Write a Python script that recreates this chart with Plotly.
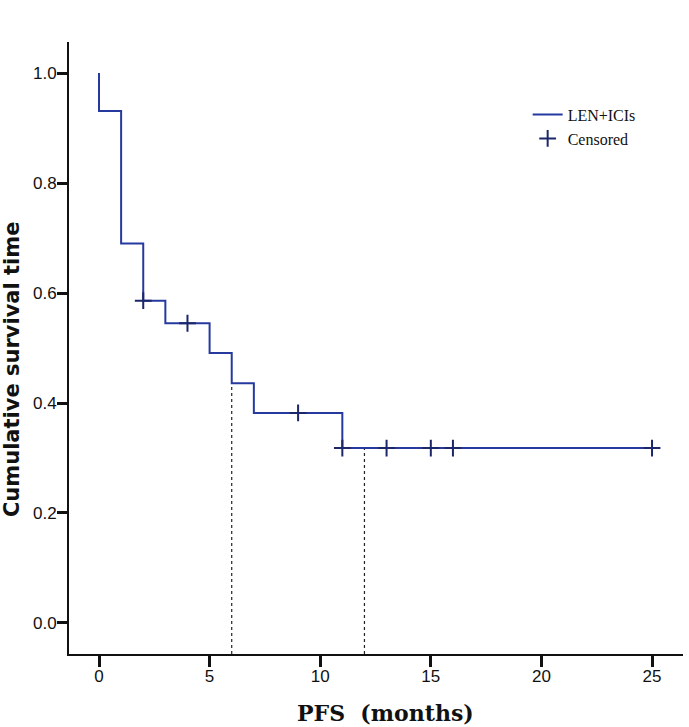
import plotly.graph_objects as go

# Kaplan-Meier step data
step_times = [0, 0, 1, 2, 3, 5, 6, 7, 11, 25]
step_surv = [1.0, 0.931, 0.690, 0.586, 0.545, 0.491, 0.436, 0.382, 0.318, 0.318]

censor_times = [2, 4, 9, 11, 13, 15, 16, 25]
censor_surv = [0.586, 0.545, 0.382, 0.318, 0.318, 0.318, 0.318, 0.318]

ref_times = [6, 12]
ref_surv = [0.436, 0.318]

x_ticks = [0, 5, 10, 15, 20, 25]
y_ticks = [0.0, 0.2, 0.4, 0.6, 0.8, 1.0]

X_RANGE = [-1.356, 26.40]
Y_RANGE = [-0.0564, 1.0564]

LINE_COLOR = "#26399f"
MARK_COLOR = "#1b2768"
AXIS_COLOR = "#111111"

fig = go.Figure()

fig.add_trace(go.Scatter(
    x=step_times, y=step_surv, mode="lines", name="LEN+ICIs",
    line=dict(color=LINE_COLOR, width=2, shape="hv"),
))
fig.add_trace(go.Scatter(
    x=censor_times, y=censor_surv, mode="markers", name="Censored",
    marker=dict(symbol="cross-thin", size=12, color=MARK_COLOR,
                line=dict(width=2, color=MARK_COLOR)),
))

for t, s in zip(ref_times, ref_surv):
    fig.add_shape(type="line", xref="x", yref="y", x0=t, x1=t,
                  y0=Y_RANGE[0], y1=s,
                  line=dict(color="#222222", width=1.2, dash="dot"), layer="below")

fig.add_annotation(
    text="<b>Cumulative survival time</b>", xref="paper", yref="paper",
    x=-0.0928, y=0.464, textangle=-90, showarrow=False,
    xanchor="center", yanchor="middle", borderpad=0,
    font=dict(family="DejaVu Sans, sans-serif", size=21, color=AXIS_COLOR),
)
fig.add_annotation(
    text="<b>PFS  (months)</b>", xref="paper", yref="paper",
    x=0.5147, y=-0.0964, showarrow=False,
    xanchor="center", yanchor="middle",
    font=dict(family="DejaVu Serif, serif", size=22, color=AXIS_COLOR),
)

fig.update_layout(
    width=689, height=727,
    margin=dict(l=69, r=6, t=42, b=73),
    paper_bgcolor="white", plot_bgcolor="white",
    showlegend=True,
    legend=dict(x=0.747, y=0.909, xanchor="left", yanchor="top",
                bgcolor="rgba(0,0,0,0)", tracegroupgap=0,
                font=dict(family="Liberation Serif, Times New Roman, serif",
                          size=16, color="#111111"),
                itemwidth=30),
    font=dict(family="Liberation Sans, Arial, sans-serif", color=AXIS_COLOR),
)

fig.update_xaxes(
    range=X_RANGE, tickvals=x_ticks, ticktext=[str(v) for v in x_ticks],
    showline=True, linecolor=AXIS_COLOR, linewidth=1.8,
    ticks="outside", ticklen=11, tickwidth=2.5, tickcolor=AXIS_COLOR,
    ticklabelstandoff=-5,
    showgrid=False, zeroline=False, automargin=False,
    tickfont=dict(size=17, family="Liberation Sans, Arial, sans-serif"),
)
fig.update_yaxes(
    range=Y_RANGE, tickvals=y_ticks, ticktext=[f"{v:.1f}" for v in y_ticks],
    showline=True, linecolor=AXIS_COLOR, linewidth=1.8,
    ticks="outside", ticklen=10, tickwidth=2.5, tickcolor=AXIS_COLOR,
    ticklabelstandoff=-3,
    showgrid=False, zeroline=False, automargin=False,
    tickfont=dict(size=17, family="Liberation Sans, Arial, sans-serif"),
)

fig.write_html("out.html", config={"displayModeBar": False},
               post_script="document.body.style.margin='0';")
